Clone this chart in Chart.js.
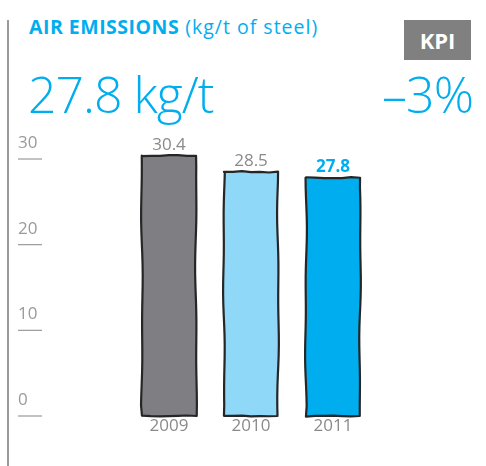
<!DOCTYPE html>
<html>
<head>
<meta charset="utf-8">
<script src="https://cdn.jsdelivr.net/npm/chart.js@4.4.0/dist/chart.umd.min.js"></script>
<style>
  html, body { margin: 0; padding: 0; background: #fff; }
  #wrap { position: relative; width: 486px; height: 466px; overflow: hidden; font-family: "Open Sans", "Noto Sans", sans-serif; }
  #chart { position: absolute; left: 0; top: 0; }
  .rule { position: absolute; left: 7px; top: 20px; width: 2px; height: 446px; background: #9a9a9a; }
  .title { position: absolute; left: 29px; top: 13px; font-size: 19.5px; color: #00aeef; letter-spacing: 1px; white-space: nowrap; }
  .title b { font-weight: 700; letter-spacing: 0.5px; }
  .kpi { position: absolute; left: 404px; top: 20px; width: 67px; height: 40px; background: #808080; color: #fff; font-weight: 700; font-size: 22px; line-height: 40px; text-align: center; }
  .big { position: absolute; top: 60px; font-size: 50px; font-weight: 300; color: #00aeef; white-space: nowrap; letter-spacing: -1px; }
</style>
</head>
<body>
<div id="wrap">
  <div class="rule"></div>
  <div class="title"><b>AIR EMISSIONS</b> (kg/t of steel)</div>
  <div class="kpi">KPI</div>
  <div class="big" style="left:28px">27.8 kg/t</div>
  <div class="big" style="right:13px">–3%</div>
  <canvas id="chart" width="486" height="466"></canvas>
</div>
<script>
// data
const years = ['2009', '2010', '2011'];
const emissions = [30.4, 28.5, 27.8];
const yTicks = [0, 10, 20, 30];
const barColors = ['#7f7e83', '#8fd8f7', '#00aeef'];

const FONT = '"Open Sans", "Noto Sans", sans-serif';

// hand-drawn look: small wavy offset along an edge
function wob(t, phase, amp) {
    return amp * (Math.sin(t * 7.3 + phase) * 0.6 + Math.sin(t * 17.1 + phase * 2.3) * 0.4);
}

const sketchBars = {
    id: 'sketchBars',
    afterDatasetsDraw(chart) {
        const ctx = chart.ctx;
        const meta = chart.getDatasetMeta(0);
        ctx.save();
        meta.data.forEach((bar, i) => {
            const half = bar.width / 2;
            const l = bar.x - half, r = bar.x + half, top = bar.y, bot = bar.base;
            const ph = i * 1.9 + 0.5;
            const n = 24;
            ctx.beginPath();
            // top edge left -> right
            for (let k = 0; k <= 6; k++) {
                const t = k / 6;
                const px = l + (r - l) * t;
                const py = top + wob(t, ph, 0.8);
                k === 0 ? ctx.moveTo(px, py) : ctx.lineTo(px, py);
            }
            // right edge top -> bottom
            for (let k = 1; k <= n; k++) {
                const t = k / n;
                ctx.lineTo(r + wob(t, ph + 1.1, 1.0), top + (bot - top) * t);
            }
            // bottom edge right -> left
            for (let k = 1; k <= 6; k++) {
                const t = k / 6;
                ctx.lineTo(r - (r - l) * t, bot + wob(t, ph + 2.7, 0.6));
            }
            // left edge bottom -> top
            for (let k = 1; k <= n; k++) {
                const t = k / n;
                ctx.lineTo(l + wob(t, ph + 4.2, 1.0), bot - (bot - top) * t);
            }
            ctx.closePath();
            ctx.fillStyle = barColors[i];
            ctx.fill();
            ctx.strokeStyle = '#262626';
            ctx.lineWidth = 2.2;
            ctx.lineJoin = 'round';
            ctx.stroke();
        });
        ctx.restore();
    }
};

const labelPlugin = {
    id: 'labels',
    afterDatasetsDraw(chart) {
        const ctx = chart.ctx;
        const y = chart.scales.y;
        const meta = chart.getDatasetMeta(0);
        ctx.save();
        // y ticks: label above a short line
        ctx.font = '17px ' + FONT;
        ctx.textAlign = 'left';
        ctx.textBaseline = 'alphabetic';
        yTicks.forEach(t => {
            const py = y.getPixelForValue(t);
            ctx.strokeStyle = '#9a9a9a';
            ctx.lineWidth = 1.2;
            ctx.beginPath();
            ctx.moveTo(18, py);
            ctx.lineTo(42, py);
            ctx.stroke();
            ctx.fillStyle = '#9a9a9a';
            ctx.fillText(String(t), 18, py - 11);
        });
        // value and year labels
        ctx.textAlign = 'center';
        meta.data.forEach((bar, i) => {
            const last = i === emissions.length - 1;
            ctx.font = (last ? 'bold ' : '') + '17px ' + FONT;
            ctx.fillStyle = last ? '#00aeef' : '#8a8a8a';
            ctx.textBaseline = 'bottom';
            ctx.fillText(emissions[i].toFixed(1), bar.x, bar.y - 2);
            ctx.font = '17px ' + FONT;
            ctx.fillStyle = '#8a8a8a';
            ctx.textBaseline = 'top';
            ctx.fillText(years[i], bar.x, y.getPixelForValue(0) + 2);
        });
        ctx.restore();
    }
};

new Chart(document.getElementById('chart'), {
    type: 'bar',
    data: {
        labels: years,
        datasets: [{
            data: emissions,
            backgroundColor: barColors,
            borderWidth: 0,
            barPercentage: 0.66,
            categoryPercentage: 1
        }]
    },
    options: {
        responsive: false,
        animation: false,
        layout: { padding: { left: 128, right: 112, top: 159, bottom: 50 } },
        scales: {
            x: { display: false },
            y: { display: false, min: 0, max: 30 }
        },
        plugins: { legend: { display: false }, tooltip: { enabled: false } }
    },
    plugins: [sketchBars, labelPlugin]
});
</script>
</body>
</html>
